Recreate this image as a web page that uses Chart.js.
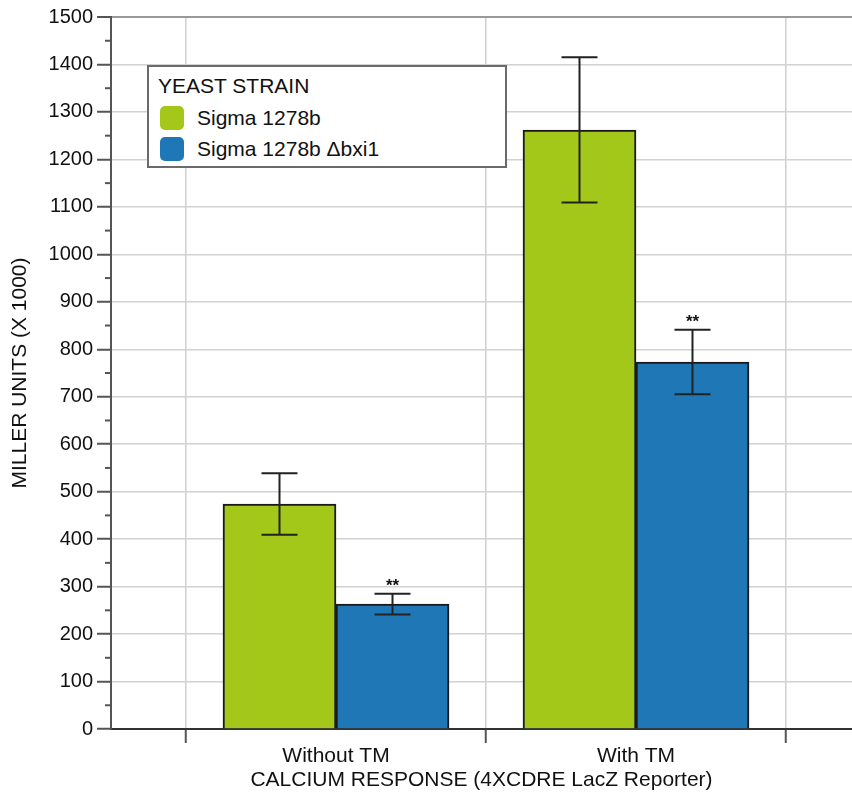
<!DOCTYPE html>
<html>
<head>
<meta charset="utf-8">
<script src="https://cdn.jsdelivr.net/npm/chart.js@4.4.1/dist/chart.umd.min.js"></script>
<style>
  body { margin: 0; background: #fff; }
  #wrap { position: relative; width: 852px; height: 795px; }
  #legend {
    position: absolute; left: 147px; top: 65px; width: 360px; height: 103px;
    box-sizing: border-box; border: 2px solid #6b6b6b; background: #fff;
    font-family: "Liberation Sans", Arial, sans-serif; font-size: 21px; color: #111;
  }
  #legend .title { position: absolute; left: 9px; top: 7px; line-height: 24px; }
  #legend .item { position: absolute; left: 11px; height: 24px; display: flex; align-items: center; }
  #legend .sw { width: 24px; height: 24px; border-radius: 5px; margin-right: 13px; }
</style>
</head>
<body>
<div id="wrap">
  <canvas id="chart"></canvas>
  <div id="legend"></div>
</div>
<script>
/////////////////////////////////// DATA ///////////////////////////////////
const categories = ['Without TM', 'With TM'];
const categoryPos = [1, 2];
const boundaryTicks = [0.5, 1, 1.5, 2, 2.5];

const wildType = [474, 1262];
const wildTypeErr = [65, 153];
const wildTypeSig = ['', ''];

const mutant = [263, 773];
const mutantErr = [22, 68];
const mutantSig = ['**', '**'];

const FONT = '"Liberation Sans", Arial, sans-serif';

/////////////////////////////////// PLUGINS ///////////////////////////////////
const errorBars = {
  id: 'errorBars',
  afterDatasetsDraw(chart) {
    const ctx = chart.ctx;
    const y = chart.scales.y;
    chart.data.datasets.forEach((ds, di) => {
      const meta = chart.getDatasetMeta(di);
      meta.data.forEach((bar, i) => {
        const v = ds.data[i].y;
        const top = y.getPixelForValue(v + ds.errors[i]);
        const bot = y.getPixelForValue(v - ds.errors[i]);
        ctx.save();
        ctx.strokeStyle = '#222';
        ctx.lineWidth = 2;
        ctx.beginPath();
        ctx.moveTo(bar.x, top); ctx.lineTo(bar.x, bot);
        ctx.moveTo(bar.x - 18, top); ctx.lineTo(bar.x + 18, top);
        ctx.moveTo(bar.x - 18, bot); ctx.lineTo(bar.x + 18, bot);
        ctx.stroke();
        if (ds.sig[i]) {
          ctx.fillStyle = '#111';
          ctx.font = 'bold 17px ' + FONT;
          ctx.textAlign = 'center';
          ctx.textBaseline = 'alphabetic';
          ctx.fillText(ds.sig[i], bar.x, top - 3);
        }
        ctx.restore();
      });
    });
  }
};

const minorTicks = {
  id: 'minorTicks',
  afterDraw(chart) {
    const ctx = chart.ctx;
    const y = chart.scales.y;
    const left = chart.chartArea.left;
    ctx.save();
    ctx.strokeStyle = '#555';
    ctx.lineWidth = 2;
    for (let i = 0; i < y.ticks.length - 1; i++) {
      const mid = (y.ticks[i].value + y.ticks[i + 1].value) / 2;
      const py = y.getPixelForValue(mid);
      ctx.beginPath();
      ctx.moveTo(left - 6, py); ctx.lineTo(left, py);
      ctx.stroke();
    }
    ctx.restore();
  }
};

const htmlLegend = {
  id: 'htmlLegend',
  afterUpdate(chart) {
    const box = document.getElementById('legend');
    box.innerHTML = '<div class="title">YEAST STRAIN</div>';
    chart.data.datasets.forEach((ds, i) => {
      const item = document.createElement('div');
      item.className = 'item';
      item.style.top = (39 + i * 31) + 'px';
      item.innerHTML = '<span class="sw" style="background:' + ds.backgroundColor + '"></span>' + ds.label;
      box.appendChild(item);
    });
  }
};

/////////////////////////////////// CHART ///////////////////////////////////
const chart = new Chart(document.getElementById('chart'), {
  type: 'bar',
  data: {
    datasets: [
      {
        label: 'Sigma 1278b',
        data: wildType.map((v, i) => ({ x: categoryPos[i], y: v })),
        errors: wildTypeErr,
        sig: wildTypeSig,
        backgroundColor: '#a3c81a',
        borderColor: '#1a1a1a',
        borderWidth: 2,
        barThickness: 113
      },
      {
        label: 'Sigma 1278b Δbxi1',
        data: mutant.map((v, i) => ({ x: categoryPos[i], y: v })),
        errors: mutantErr,
        sig: mutantSig,
        backgroundColor: '#1f78b5',
        borderColor: '#1a1a1a',
        borderWidth: 2,
        barThickness: 113
      }
    ]
  },
  plugins: [errorBars, minorTicks, htmlLegend],
  options: {
    responsive: true,
    maintainAspectRatio: false,
    animation: false,
    layout: { padding: { top: 17, left: 0, right: 0, bottom: 0 } },
    plugins: { legend: { display: false }, tooltip: { enabled: false } },
    scales: {
      x: {
        type: 'linear',
        offset: false,
        min: 0.25,
        max: 2.72,
        afterBuildTicks: (scale) => { scale.ticks = boundaryTicks.map(v => ({ value: v })); },
        afterFit: (scale) => { scale.height = 66; },
        ticks: {
          autoSkip: false,
          maxRotation: 0,
          padding: 1,
          color: '#111',
          font: { family: FONT, size: 21 },
          callback: (v) => {
            const i = categoryPos.indexOf(v);
            return i >= 0 ? categories[i] : '';
          }
        },
        grid: {
          offset: false,
          color: (c) => (c.tick && c.tick.value % 1 === 0.5) ? '#cfcfcf' : 'rgba(0,0,0,0)',
          tickColor: (c) => (c.tick && c.tick.value % 1 === 0.5) ? '#555' : 'rgba(0,0,0,0)',
          lineWidth: 1.5,
          tickWidth: 2,
          tickLength: 14
        },
        border: { color: '#333', width: 2 },
        title: {
          display: true,
          text: 'CALCIUM RESPONSE (4XCDRE LacZ Reporter)',
          color: '#111',
          font: { family: FONT, size: 21 },
          padding: { top: 0, bottom: 2 }
        }
      },
      y: {
        min: 0,
        max: 1500,
        afterFit: (scale) => { scale.width = 111; },
        ticks: {
          stepSize: 100,
          padding: 4,
          color: '#111',
          font: { family: FONT, size: 20 },
          callback: (v) => String(v)
        },
        grid: {
          color: (c) => (c.tick && c.tick.value === 1500) ? '#999' : '#d2d2d2',
          lineWidth: (c) => (c.tick && c.tick.value === 1500) ? 2 : 1.5,
          tickColor: '#555',
          tickWidth: 2,
          tickLength: 14
        },
        border: { color: '#555', width: 2 },
        title: {
          display: true,
          text: 'MILLER UNITS (X 1000)',
          color: '#111',
          font: { family: FONT, size: 21 },
          padding: { top: 8, bottom: 0 }
        }
      }
    }
  }
});
</script>
</body>
</html>
